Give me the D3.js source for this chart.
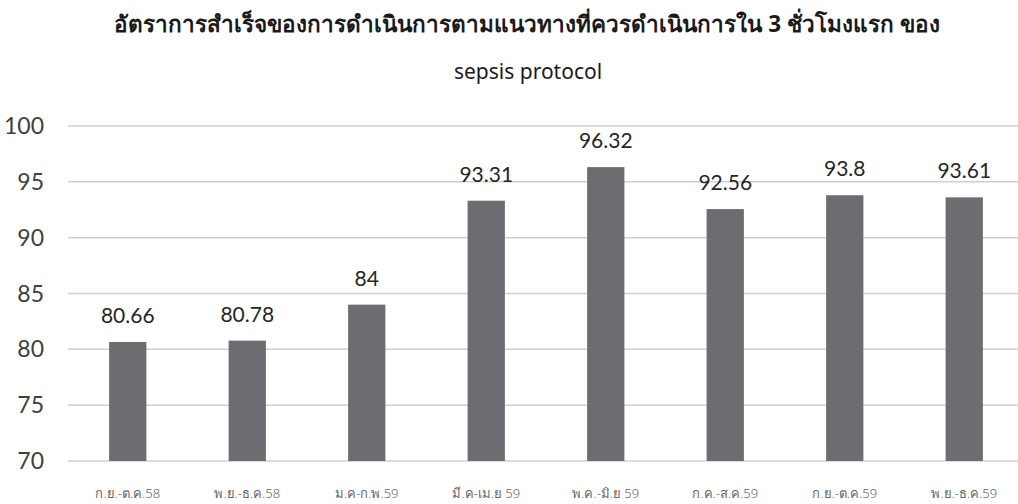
<!DOCTYPE html>
<html>
<head>
<meta charset="utf-8">
<script src="https://cdn.jsdelivr.net/npm/d3@7"></script>
<style>
  html, body { margin: 0; padding: 0; background: #fff; }
  svg { display: block; }
</style>
</head>
<body>
<svg id="chart" width="1018" height="504"></svg>
<script>
// Reporting periods and success rates (%)
const categories = ["ก.ย.-ต.ค.58", "พ.ย.-ธ.ค.58", "ม.ค-ก.พ.59", "มี.ค-เม.ย 59", "พ.ค.-มิ.ย 59", "ก.ค.-ส.ค.59", "ก.ย.-ต.ค.59", "พ.ย.-ธ.ค.59"];
const values = [80.66, 80.78, 84, 93.31, 96.32, 92.56, 93.8, 93.61];
const yTicks = [70, 75, 80, 85, 90, 95, 100];
const titleLine1 = "อัตราการสำเร็จของการดำเนินการตามแนวทางที่ควรดำเนินการใน 3 ชั่วโมงแรก ของ";
const titleLine2 = "sepsis protocol";

const svg = d3.select("#chart");

const plot = { left: 68, right: 1024, top: 126, bottom: 461 };

const x = d3.scaleBand()
  .domain(categories)
  .range([plot.left, plot.right])
  .paddingInner(0.688)
  .paddingOuter(0.344);

const y = d3.scaleLinear()
  .domain([70, 100])
  .range([plot.bottom, plot.top]);

// Horizontal gridlines
svg.append("g")
  .selectAll("line")
  .data(yTicks)
  .join("line")
  .attr("x1", plot.left)
  .attr("x2", plot.right)
  .attr("y1", d => y(d))
  .attr("y2", d => y(d))
  .attr("stroke", "#d0d0d0")
  .attr("stroke-width", 1.5);

// Y tick labels
svg.append("g")
  .selectAll("text")
  .data(yTicks)
  .join("text")
  .attr("x", 44)
  .attr("y", d => y(d))
  .attr("dy", "0.35em")
  .attr("text-anchor", "end")
  .attr("font-family", "Lato, 'Open Sans', sans-serif")
  .attr("font-size", 23)
  .attr("fill", "#404040")
  .text(d => d);

// Bars
svg.append("g")
  .selectAll("rect")
  .data(values)
  .join("rect")
  .attr("x", (d, i) => x(categories[i]))
  .attr("width", x.bandwidth())
  .attr("y", d => y(d))
  .attr("height", d => y(70) - y(d))
  .attr("fill", "#6c6d71");

// Value labels
svg.append("g")
  .selectAll("text")
  .data(values)
  .join("text")
  .attr("x", (d, i) => x(categories[i]) + x.bandwidth() / 2)
  .attr("y", d => y(d) - 19)
  .attr("text-anchor", "middle")
  .attr("font-family", "Lato, 'Open Sans', sans-serif")
  .attr("font-size", 21)
  .attr("fill", "#262626")
  .text(d => d);

// Category labels
svg.append("g")
  .selectAll("text")
  .data(categories)
  .join("text")
  .attr("x", d => x(d) + x.bandwidth() / 2)
  .attr("y", 498)
  .attr("text-anchor", "middle")
  .attr("font-family", "'Noto Sans', 'DejaVu Sans', sans-serif")
  .attr("font-size", 13)
  .attr("font-weight", 300)
  .attr("fill", "#666666")
  .text(d => d);

// Title
svg.append("text")
  .attr("x", 527)
  .attr("y", 32)
  .attr("text-anchor", "middle")
  .attr("font-family", "'Noto Sans', 'DejaVu Sans', sans-serif")
  .attr("font-size", 22.5)
  .attr("font-weight", "bold")
  .attr("fill", "#1a1a1a")
  .text(titleLine1);

svg.append("text")
  .attr("x", 528)
  .attr("y", 79)
  .attr("text-anchor", "middle")
  .attr("font-family", "'Noto Sans', 'DejaVu Sans', sans-serif")
  .attr("font-size", 21)
  .attr("fill", "#1a1a1a")
  .text(titleLine2);
</script>
</body>
</html>
